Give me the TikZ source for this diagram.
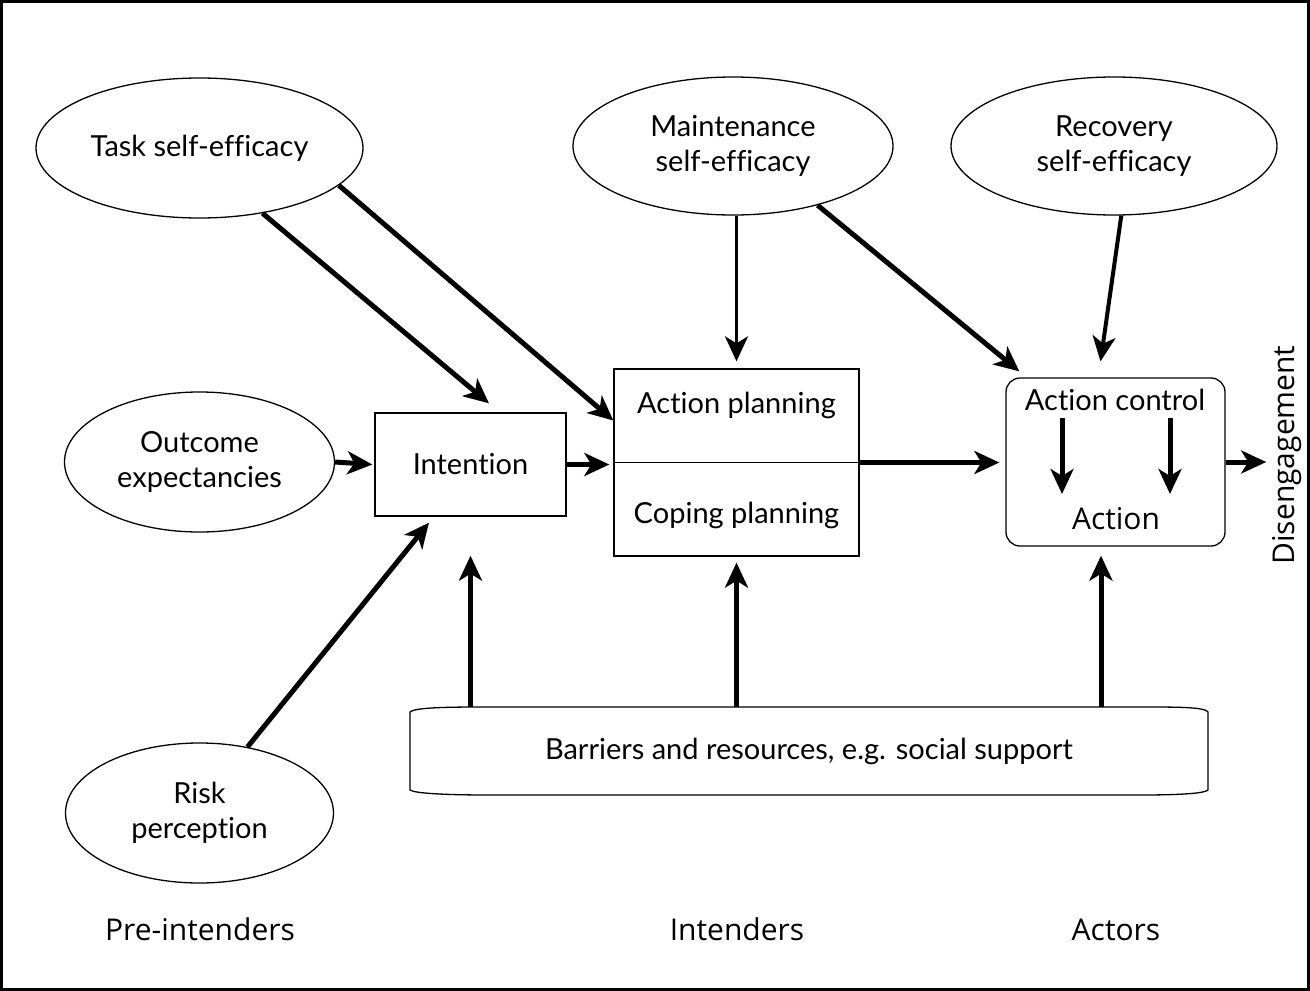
\documentclass[tikz,border=0pt]{standalone}
\usepackage{fontspec}
\setmainfont{Lato}[Ligatures={NoCommon}]
\newfontfamily\lblfont{Open Sans}
\usetikzlibrary{shapes.geometric,arrows.meta}
\newcommand\mainsz{\fontsize{29}{35}\selectfont}
\newcommand\lblsz{\lblfont\fontsize{30}{36}\selectfont}
\begin{document}
\begin{tikzpicture}[x=1pt,y=-1pt,
  shapeline/.style={draw, line width=1.3pt},
  oval/.style={ellipse, shapeline, inner sep=0pt, align=center, font=\mainsz},
  boxnode/.style={rectangle, shapeline, inner sep=0pt, font=\mainsz},
  txt/.style={inner sep=0pt, anchor=base, font=\mainsz},
  lbl/.style={inner sep=0pt, font=\lblsz},
  arr/.style={line width=5pt, -{Stealth[length=25pt,width=23pt,inset=7pt]}},
]
\useasboundingbox (0,0) rectangle (1310,991);
\draw[line width=3pt] (1.5,1.5) rectangle (1308.5,989.5);

% ellipses
\node[oval, minimum width=327pt, minimum height=140pt] (task) at (199.5,148) {Task self-efficacy};
\node[oval, minimum width=320pt, minimum height=138pt] (maint) at (733,146) {Maintenance\\self-efficacy};
\node[oval, minimum width=326pt, minimum height=138pt] (recov) at (1114,146) {Recovery\\self-efficacy};
\node[oval, minimum width=270pt, minimum height=140pt] (outc) at (199.5,462) {Outcome\\expectancies};
\node[oval, minimum width=268pt, minimum height=140pt] (risk) at (199.5,813) {Risk\\perception};

% boxes
\node[boxnode, minimum width=191pt, minimum height=103pt] (intention) at (470.5,464.5) {Intention};
\node[boxnode, minimum width=245pt, minimum height=187pt] (ap) at (736.5,462.5) {};
\draw[line width=1.3pt] (ap.west) -- (ap.east);
\node[txt] (aptxt) at (736.5,413) {Action planning};
\node[txt] (cptxt) at (736.5,523) {Coping planning};

\node[boxnode, rounded corners=14pt, minimum width=219pt, minimum height=168pt] (action) at (1115.5,462) {};
\node[txt] (actctl) at (1115,410) {Action control};
\node[lbl, anchor=base] (actlbl) at (1116,529) {Action};

% barriers
\node[inner sep=0pt, minimum width=798pt, minimum height=88pt, font=\mainsz] (barriers) at (809,751) {Barriers and resources, e.g. social support};
\draw[shapeline] (410,790) -- (410,712) .. controls (414,708) and (440,707) .. (480,707)
  -- (1150,707) .. controls (1190,707) and (1205,708) .. (1208,712)
  -- (1208,790) .. controls (1205,793) and (1185,795) .. (1140,795)
  -- (490,795) .. controls (440,795) and (414,793) .. (410,790) -- cycle;

% labels
\node[lbl, anchor=base] (pre) at (200,940) {Pre-intenders};
\node[lbl, anchor=base] (intd) at (737,940) {Intenders};
\node[lbl, anchor=base] (actors) at (1116,940) {Actors};
\node[lbl, rotate=90] (dis) at (1287,455) {Disengagement};

% connectors
\draw[arr] (task.-46) -- ([shift={(18.5,-9)}]intention.north);
\draw[arr] (task.-15) -- ([shift={(0,-42)}]ap.west);
\draw[arr] (outc.east) -- ([xshift=-2pt]intention.west);
\draw[arr] (risk.54) -- ([shift={(-41.5,6)}]intention.south);
\draw[arr, shorten >=4pt] (intention.east) -- (ap.west |- intention.east);
\draw[arr, line width=3.5pt, shorten >=7pt] (ap.north |- maint.south) -- (ap.north);
\draw[arr] (maint.-35) -- ([shift={(14,-6)}]action.north west);
\draw[arr, line width=4pt] (recov.-84) -- ([shift={(-15,-16)}]action.north);
\draw[arr, shorten >=6pt] (ap.east) -- (action.west |- ap.east);
\draw[arr, shorten >=6pt] (action.east) -- (action.east -| dis.north);
\draw[arr] ([shift={(-53.5,-44)}]action.center) -- ([shift={(-53.5,32)}]action.center);
\draw[arr] ([shift={(54.5,-44)}]action.center) -- ([shift={(54.5,32)}]action.center);
\coordinate (actin) at ([xshift=-14.5pt]action.south);
\draw[arr, shorten >=39pt] (intention.south |- barriers.north) -- (intention.south);
\draw[arr, shorten >=6pt] (ap.south |- barriers.north) -- (ap.south);
\draw[arr, shorten >=9pt] (actin |- barriers.north) -- (actin);
\end{tikzpicture}
\end{document}
